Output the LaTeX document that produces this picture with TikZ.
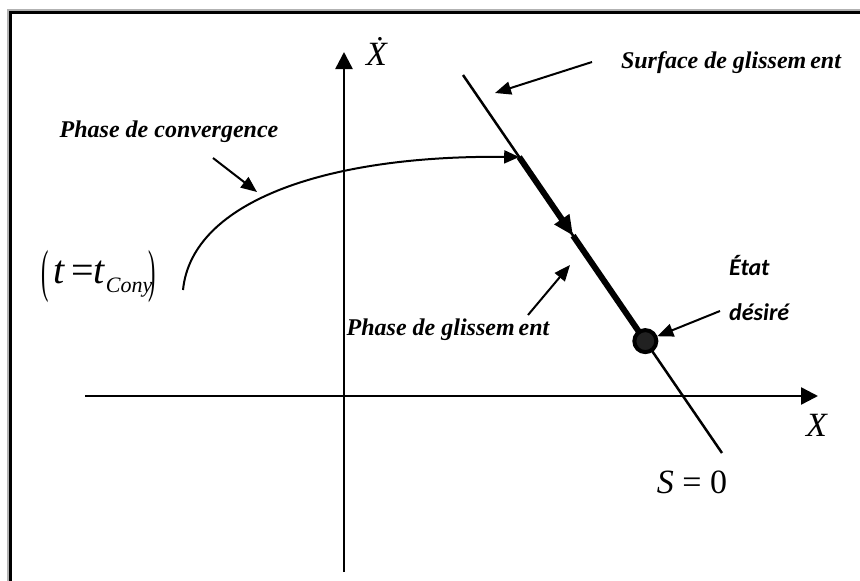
\documentclass[tikz,border=0pt]{standalone}
\usepackage{fontspec}
\setmainfont{Liberation Serif}
\newfontfamily\calibri{Carlito}
\usetikzlibrary{arrows.meta,calc}

\tikzset{
  axis/.style={line width=2.5pt, -{Triangle[length=17pt,width=17pt]}},
  pointer/.style={line width=2pt, -{Triangle[length=16pt,width=13pt]}},
  phase/.style={font=\fontsize{24}{28}\selectfont\bfseries\itshape},
  mathlbl/.style={font=\fontsize{34}{38}\selectfont}
}
\newcommand{\bigparen}[1]{\raisebox{-7pt}{\scalebox{0.55}[1.45]{#1}}}

\begin{document}
\begin{tikzpicture}[x=1pt, y=-1pt]
  \useasboundingbox (0,0) rectangle (860,581);
  % Frame (top and left only)
  \draw[line width=2pt, gray!60] (8,581) -- (8,10) -- (860,10);
  \draw[line width=3pt] (10.5,581) -- (10.5,12.5) -- (860,12.5);
  % Axes
  \coordinate (xs) at (85,396);
  \coordinate (xe) at (818,396);
  \coordinate (ys) at (344,572);
  \coordinate (ye) at (344,52);
  \draw[axis] (xs) -- (xe);
  \draw[axis] (ys) -- (ye);
  \node[mathlbl] (xlbl) at (817,425) {\textit{X}};
  \node[mathlbl, anchor=base, inner sep=0pt] (ylbl) at (377,65) {\textit{\.X}};
  % Sliding surface S = 0
  \coordinate (stop) at (463,75);
  \coordinate (sbot) at (722,453);
  \draw[line width=2.5pt] (stop) -- (sbot);
  \node[mathlbl] (slbl) at (692,482) {\textit{S} = 0};
  % Sliding phase (thick part with arrow)
  \coordinate (g0) at ($(stop)!0.217!(sbot)$);
  \coordinate (g1) at ($(stop)!0.425!(sbot)$);
  \coordinate (g2) at ($(stop)!0.704!(sbot)$);
  \draw[line width=6pt, -{Triangle[length=20pt,width=17pt]}] (g0) -- (g1);
  \draw[line width=6pt] (g1) -- (g2);
  % Desired state
  \node[circle, draw, line width=4pt, fill=black!87, minimum size=22pt, inner sep=0pt] (etat) at (g2) {};
  % Convergence phase curve
  \coordinate (c0) at (183,290);
  \draw[line width=2pt, -{Triangle[length=15pt,width=13pt]}] (c0) .. controls (192,200) and (330,155) .. (g0);
  \node[font=\fontsize{40}{44}\selectfont, anchor=base west, inner sep=0pt] (tcon) at (41,283)
    {\bigparen{(}\hspace{5pt}\textit{t}\hspace{6pt}=\textit{t}\raisebox{-9pt}{\fontsize{22}{24}\selectfont\itshape Cony}\hspace{-4pt}\bigparen{)}};
  % Labels and pointers
  \node[phase] (pconv) at (169,132) {Phase de convergence};
  \coordinate (pconvA) at (213,158);
  \coordinate (pconvB) at (257,192);
  \draw[pointer] (pconvA) -- (pconvB);
  \node[phase] (surf) at (731,63) {Surface de glissem\kern4pt ent};
  \coordinate (surfA) at (592,62);
  \coordinate (surfB) at (495,93);
  \draw[pointer] (surfA) -- (surfB);
  \node[phase] (pgl) at (448,330) {Phase de glissem\kern4pt ent};
  \coordinate (pglA) at (528,315);
  \coordinate (pglB) at (570,265);
  \draw[pointer] (pglA) -- (pglB);
  \node[font=\fontsize{24}{45}\selectfont\calibri\bfseries\itshape, align=left, anchor=west, inner sep=0pt] (etatlbl) at (729,288) {État\\désiré};
  \coordinate (etatA) at (720,311);
  \draw[pointer] (etatA) -- (etat);
\end{tikzpicture}
\end{document}
